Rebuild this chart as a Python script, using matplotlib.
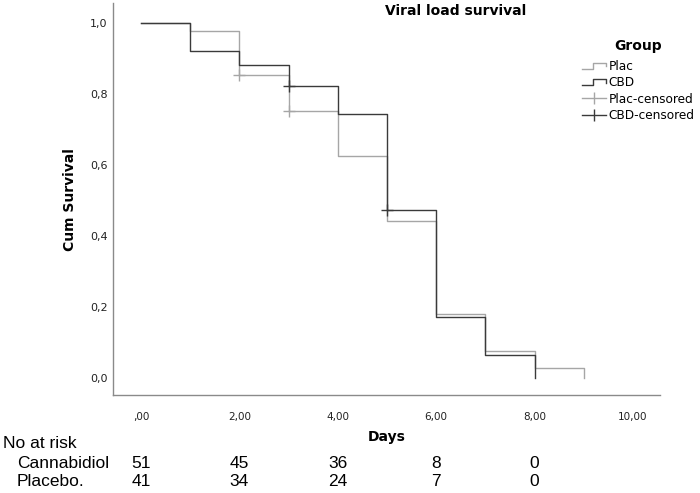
import matplotlib
matplotlib.use("Agg")
import matplotlib.pyplot as plt
from matplotlib.lines import Line2D
from matplotlib.legend_handler import HandlerBase

# ---- data ----
cbd_days = [0, 1, 2, 3, 4, 5, 6, 7, 8]
cbd_surv = [1.0, 0.922, 0.882, 0.823, 0.742, 0.473, 0.173, 0.065, 0.0]
plac_days = [0, 1, 2, 3, 4, 5, 6, 7, 8, 9]
plac_surv = [1.0, 0.976, 0.854, 0.752, 0.625, 0.443, 0.180, 0.077, 0.027, 0.0]
cbd_cens_days = [3, 5]
cbd_cens_surv = [0.823, 0.473]
plac_cens_days = [2, 3]
plac_cens_surv = [0.854, 0.752]
xticks = [0, 2, 4, 6, 8, 10]
xtick_labels = [",00", "2,00", "4,00", "6,00", "8,00", "10,00"]
yticks = [0.0, 0.2, 0.4, 0.6, 0.8, 1.0]
ytick_labels = ["0,0", "0,2", "0,4", "0,6", "0,8", "1,0"]
risk_days = [0, 2, 4, 6, 8]
risk_cbd = [51, 45, 36, 8, 0]
risk_plac = [41, 34, 24, 7, 0]

PLAC_C = "#a6a6a6"
CBD_C = "#3a3a3a"
W, H = 700, 493

fig = plt.figure(figsize=(7, 4.93), dpi=100)
ax = fig.add_axes([113 / W, 1 - 395 / H, (660 - 113) / W, (395 - 3) / H])

ax.step(plac_days, plac_surv, where="post", color=PLAC_C, lw=1.0)
ax.step(cbd_days, cbd_surv, where="post", color=CBD_C, lw=1.0)
ax.plot(plac_cens_days, plac_cens_surv, ls="none", marker="+", ms=8, mew=1.0, color=PLAC_C)
ax.plot(cbd_cens_days, cbd_cens_surv, ls="none", marker="+", ms=8, mew=1.0, color=CBD_C)

ax.set_xlim(-0.57, 10.55)
ax.set_ylim(-0.048, 1.056)
ax.set_xticks(xticks)
ax.set_xticklabels(xtick_labels, fontsize=7.5, color="#222222")
ax.set_yticks(yticks)
ax.set_yticklabels(ytick_labels, fontsize=8, color="#222222")
ax.tick_params(axis="x", length=0, pad=12)
ax.tick_params(axis="y", length=0, pad=4)
for s in ["top", "right"]:
    ax.spines[s].set_visible(False)
for s in ["left", "bottom"]:
    ax.spines[s].set_color("#8a8a8a")
    ax.spines[s].set_linewidth(1.0)

fig.text(70 / W, 1 - 200 / H, "Cum Survival", rotation=90, ha="center", va="center",
         fontsize=10, fontweight="bold")
fig.text(387 / W, 1 - 437 / H, "Days", ha="center", va="center", fontsize=10, fontweight="bold")
fig.text(456 / W, 1 - 11 / H, "Viral load survival", ha="center", va="center",
         fontsize=10, fontweight="bold")


class StepHandler(HandlerBase):
    def create_artists(self, legend, orig_handle, xdescent, ydescent, width, height, fontsize, trans):
        x0, y0 = -xdescent, -ydescent
        xs = [x0, x0 + 0.45 * width, x0 + 0.45 * width, x0 + width, x0 + width]
        ys = [y0 + 0.15 * height, y0 + 0.15 * height, y0 + 0.85 * height, y0 + 0.85 * height, y0 + 0.45 * height]
        ln = Line2D(xs, ys, color=orig_handle.get_color(), lw=1.0, transform=trans)
        return [ln]


h_plac = Line2D([], [], color=PLAC_C)
h_cbd = Line2D([], [], color=CBD_C)
h_pc = Line2D([], [], color=PLAC_C, lw=1.0, marker="|", ms=9, mew=1.0)
h_cc = Line2D([], [], color=CBD_C, lw=1.0, marker="|", ms=9, mew=1.0)
leg = ax.legend([h_plac, h_cbd, h_pc, h_cc], ["Plac", "CBD", "Plac-censored", "CBD-censored"],
                handler_map={h_plac: StepHandler(), h_cbd: StepHandler()},
                title="Group", title_fontproperties={"weight": "bold", "size": 10},
                fontsize=8.7, frameon=False, loc="upper left",
                bbox_to_anchor=(582 / W, 1 - 39 / H), bbox_transform=fig.transFigure,
                handlelength=2.0, handletextpad=0.2, labelspacing=0.28, borderpad=0,
                borderaxespad=0, alignment="center")
leg._legend_box.sep = 5

# risk table
fig.text(3 / W, 1 - 443 / H, "No at risk", ha="left", va="center", fontsize=12.5,
         family="Liberation Sans")
fig.text(17 / W, 1 - 463 / H, "Cannabidiol", ha="left", va="center", fontsize=12.5,
         family="Liberation Sans")
fig.text(17 / W, 1 - 482 / H, "Placebo.", ha="left", va="center", fontsize=12.5,
         family="Liberation Sans")
btrans = matplotlib.transforms.blended_transform_factory(ax.transData, fig.transFigure)
for d, c, p in zip(risk_days, risk_cbd, risk_plac):
    ax.text(d, 1 - 463 / H, str(c), transform=btrans, ha="center", va="center",
            fontsize=12.5, family="Liberation Sans", clip_on=False)
    ax.text(d, 1 - 482 / H, str(p), transform=btrans, ha="center", va="center",
            fontsize=12.5, family="Liberation Sans", clip_on=False)

fig.savefig("out.png", dpi=100)
